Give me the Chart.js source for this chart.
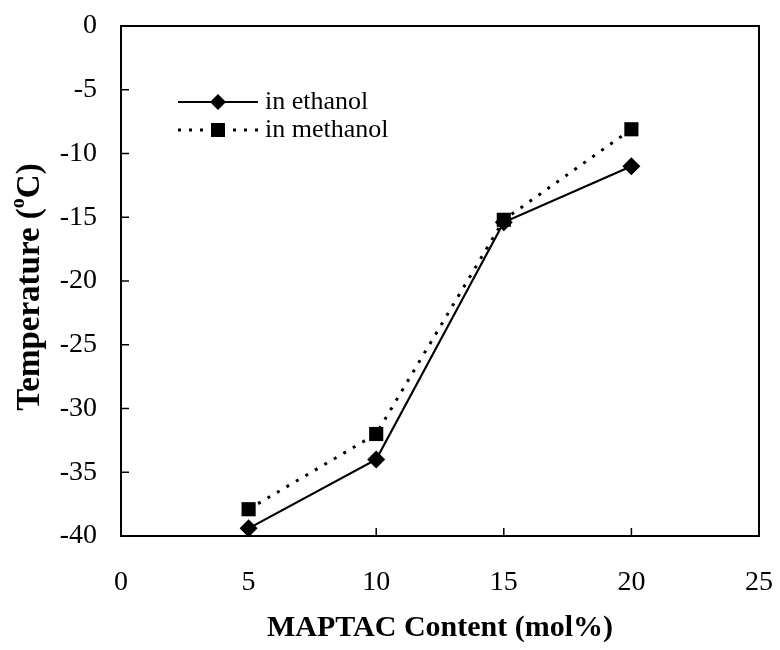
<!DOCTYPE html>
<html>
<head>
<meta charset="utf-8">
<script src="https://cdn.jsdelivr.net/npm/chart.js@4.4.0/dist/chart.umd.min.js"></script>
<style>
  body { margin: 0; background: #fff; }
  #wrap { width: 780px; height: 650px; }
</style>
</head>
<body>
<div id="wrap"><canvas id="myChart" width="780" height="650"></canvas></div>
<script>
var content = [5, 10, 15, 20];
var ethanol = [-39.4, -34.0, -15.4, -11.0];
var methanol = [-37.9, -32.0, -15.2, -8.1];
var seriesNames = ["in ethanol", "in methanol"];
var xTicks = [0, 5, 10, 15, 20, 25];
var yTicks = [0, -5, -10, -15, -20, -25, -30, -35, -40];

var serif = "'Liberation Serif', 'Times New Roman', serif";

function toPoints(xs, ys) {
  var pts = [];
  for (var i = 0; i < xs.length; i++) pts.push({x: xs[i], y: ys[i]});
  return pts;
}

// box, inward ticks, in-plot legend and the y title
var framePlugin = {
  id: 'frame',
  afterDraw: function(chart) {
    var c = chart.ctx, a = chart.chartArea;
    var xs = chart.scales.x, ys = chart.scales.y;
    c.save();
    c.strokeStyle = '#000';
    c.lineWidth = 2;
    c.strokeRect(a.left, a.top, a.right - a.left, a.bottom - a.top);
    c.lineWidth = 1.5;
    yTicks.forEach(function(v) {
      var py = ys.getPixelForValue(v);
      c.beginPath(); c.moveTo(a.left, py); c.lineTo(a.left + 8, py); c.stroke();
    });
    xTicks.forEach(function(v) {
      var px = xs.getPixelForValue(v);
      c.beginPath(); c.moveTo(px, a.bottom); c.lineTo(px, a.bottom - 8); c.stroke();
    });

    // legend
    var rows = [102, 130];
    chart.data.datasets.forEach(function(ds, i) {
      var y = rows[i];
      c.strokeStyle = '#000';
      c.lineWidth = ds.borderWidth;
      c.setLineDash(ds.borderDash || []);
      c.beginPath(); c.moveTo(178, y); c.lineTo(258, y); c.stroke();
      c.setLineDash([]);
      c.fillStyle = '#000';
      c.beginPath();
      if (ds.pointStyle === 'rectRot') {
        var r = 8;
        c.moveTo(218, y - r); c.lineTo(218 + r, y); c.lineTo(218, y + r); c.lineTo(218 - r, y);
      } else {
        c.rect(211, y - 7, 14, 14);
      }
      c.fill();
      c.font = '26px ' + serif;
      c.textAlign = 'left';
      c.textBaseline = 'middle';
      c.fillText(ds.label, 265, y);
    });

    // y title with superscript
    c.translate(30, 287);
    c.rotate(-Math.PI / 2);
    c.textBaseline = 'middle';
    var big = 'bold 33px ' + serif, small = 'bold 20px ' + serif;
    var t1 = 'Temperature (', t2 = 'o', t3 = 'C)';
    c.font = big;
    var w1 = c.measureText(t1).width, w3 = c.measureText(t3).width;
    c.font = small;
    var w2 = c.measureText(t2).width;
    var x0 = -(w1 + w2 + w3) / 2;
    c.textAlign = 'left';
    c.font = big;
    c.fillText(t1, x0, 0);
    c.fillText(t3, x0 + w1 + w2, 0);
    c.font = small;
    c.fillText(t2, x0 + w1, -11);
    c.restore();
  }
};

var ctx = document.getElementById('myChart').getContext('2d');
var chart = new Chart(ctx, {
  type: 'line',
  data: {
    datasets: [
      {
        label: seriesNames[0],
        data: toPoints(content, ethanol),
        borderColor: '#000',
        backgroundColor: '#000',
        borderWidth: 2.2,
        pointStyle: 'rectRot',
        pointRadius: 9,
        pointBorderWidth: 0,
        tension: 0
      },
      {
        label: seriesNames[1],
        data: toPoints(content, methanol),
        borderColor: '#000',
        backgroundColor: '#000',
        borderWidth: 3,
        borderDash: [3, 8],
        pointStyle: 'rect',
        pointRadius: 10,
        pointBorderWidth: 0,
        tension: 0
      }
    ]
  },
  options: {
    responsive: false,
    animation: false,
    layout: { padding: { top: 26, right: 21, left: 0, bottom: 0 } },
    plugins: { legend: { display: false }, tooltip: { enabled: false } },
    scales: {
      x: {
        type: 'linear',
        min: 0, max: 25,
        afterBuildTicks: function(s) { s.ticks = xTicks.map(function(v) { return {value: v}; }); },
        afterFit: function(s) { s.height = 114; s.paddingLeft = 0; s.paddingRight = 0; },
        grid: { display: false, drawTicks: false },
        border: { display: false },
        ticks: { color: '#000', padding: 30, font: { family: serif, size: 28 } },
        title: {
          display: true,
          text: 'MAPTAC Content (mol%)',
          color: '#000',
          padding: { top: 8 },
          font: { family: serif, size: 30, weight: 'bold' }
        }
      },
      y: {
        type: 'linear',
        min: -40, max: 0,
        afterBuildTicks: function(s) { s.ticks = yTicks.map(function(v) { return {value: v}; }); },
        afterFit: function(s) { s.width = 121; s.paddingTop = 0; s.paddingBottom = 0; },
        grid: { display: false, drawTicks: false },
        border: { display: false },
        ticks: { color: '#000', padding: 24, font: { family: serif, size: 28 } }
      }
    }
  },
  plugins: [framePlugin]
});
</script>
</body>
</html>
